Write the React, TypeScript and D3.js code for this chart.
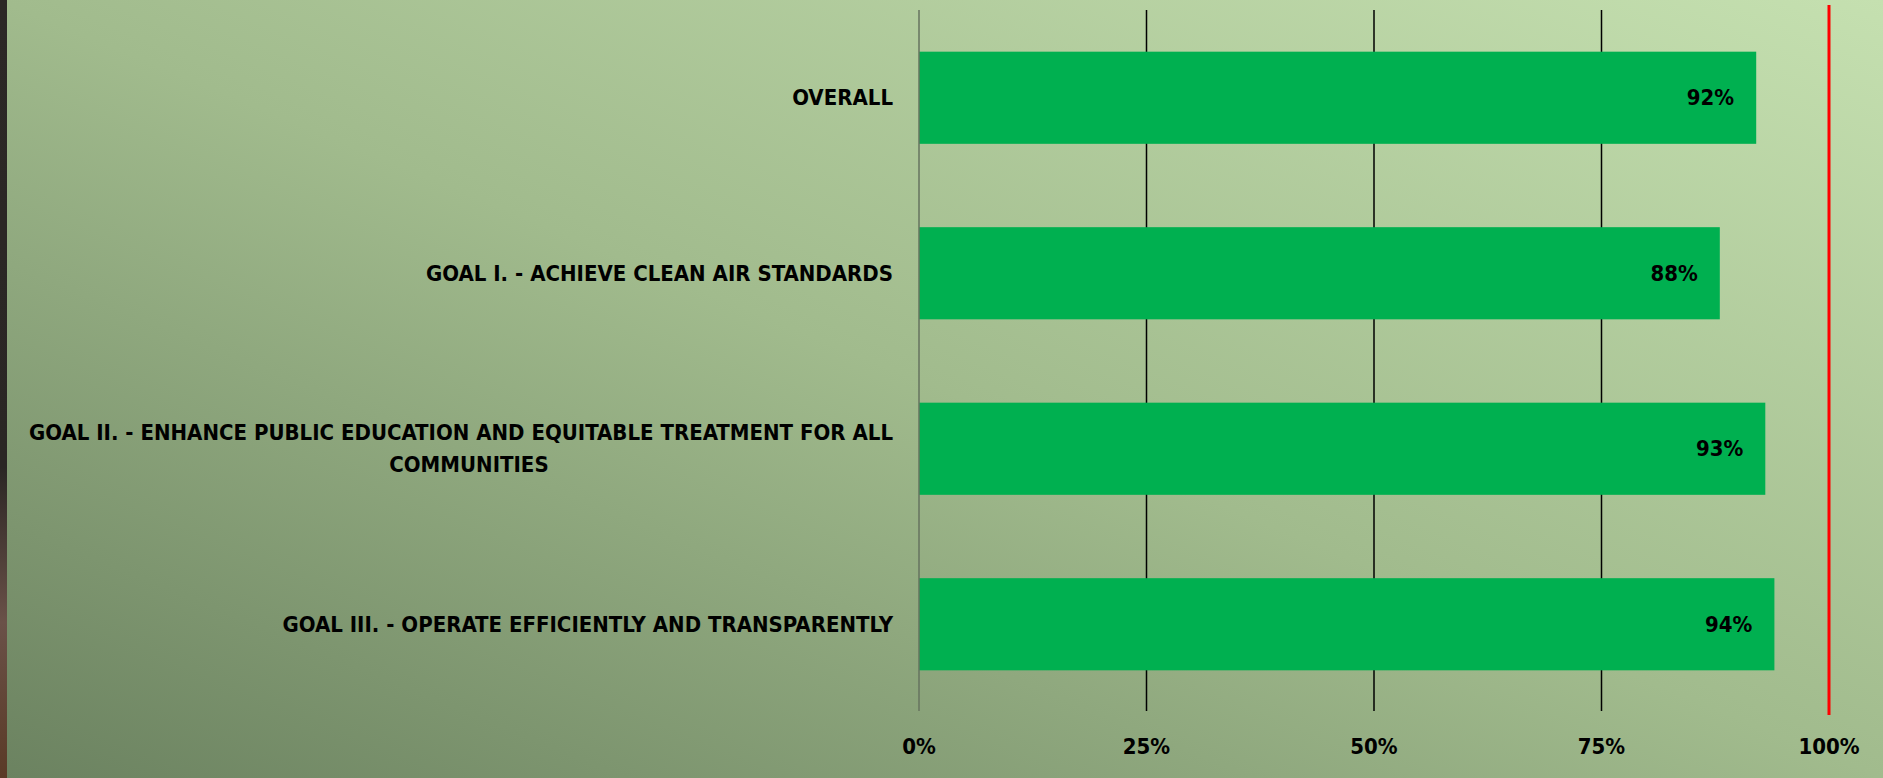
import { useEffect, useRef } from 'react';
import * as d3 from 'd3';

const categories = [
  'OVERALL',
  'GOAL I. - ACHIEVE CLEAN AIR STANDARDS',
  'GOAL II. - ENHANCE PUBLIC EDUCATION AND EQUITABLE TREATMENT FOR ALL|COMMUNITIES',
  'GOAL III. - OPERATE EFFICIENTLY AND TRANSPARENTLY',
];
const values = [0.92, 0.88, 0.93, 0.94];
const ticks = [0, 0.25, 0.5, 0.75, 1];
const target = 1;

const FONT = "'Liberation Sans Narrow', 'DejaVu Sans Condensed', 'Arial Narrow', sans-serif";

const App = () => {
  const svgRef = useRef<SVGSVGElement>(null);

  useEffect(() => {
    const width = 1883;
    const height = 778;
    const svg = d3.select(svgRef.current);
    svg.selectAll('*').remove();
    svg.attr('width', width).attr('height', height);

    const defs = svg.append('defs');
    const bg = defs.append('linearGradient')
      .attr('id', 'bg').attr('x1', 0).attr('y1', 1).attr('x2', 1).attr('y2', 0);
    bg.append('stop').attr('offset', 0).attr('stop-color', '#6b8260');
    bg.append('stop').attr('offset', 0.5).attr('stop-color', '#a1bb8d');
    bg.append('stop').attr('offset', 1).attr('stop-color', '#c5e0b0');

    const strip = defs.append('linearGradient')
      .attr('id', 'strip').attr('x1', 0).attr('y1', 0).attr('x2', 0).attr('y2', 1);
    strip.append('stop').attr('offset', 0).attr('stop-color', '#2c2826');
    strip.append('stop').attr('offset', 0.6).attr('stop-color', '#2a2624');
    strip.append('stop').attr('offset', 0.8).attr('stop-color', '#6a5148');
    strip.append('stop').attr('offset', 1).attr('stop-color', '#5a3a26');

    svg.append('rect').attr('width', width).attr('height', height).attr('fill', 'url(#bg)');
    svg.append('rect').attr('width', 7).attr('height', height).attr('fill', 'url(#strip)');

    const x = d3.scaleLinear().domain([0, 1]).range([919, 1829]);
    const y = d3.scaleBand<string>()
      .domain(categories)
      .range([10, 712])
      .paddingInner(0.475)
      .paddingOuter(0.2375);

    // gridlines
    svg.append('g')
      .selectAll('line')
      .data(ticks.filter(t => t > 0 && t < 1))
      .join('line')
      .attr('x1', d => x(d)).attr('x2', d => x(d))
      .attr('y1', 10).attr('y2', 711)
      .attr('stroke', '#000').attr('stroke-width', 1.5);

    // bars
    svg.append('g')
      .selectAll('rect')
      .data(categories)
      .join('rect')
      .attr('x', x(0))
      .attr('y', d => y(d)!)
      .attr('width', (d, i) => x(values[i]) - x(0))
      .attr('height', y.bandwidth())
      .attr('fill', '#00b050');

    // zero axis
    svg.append('line')
      .attr('x1', x(0)).attr('x2', x(0))
      .attr('y1', 10).attr('y2', 711)
      .attr('stroke', '#66735f').attr('stroke-width', 1.5);

    // target line
    svg.append('line')
      .attr('x1', x(target)).attr('x2', x(target))
      .attr('y1', 5).attr('y2', 715)
      .attr('stroke', '#ff0000').attr('stroke-width', 3);

    // value labels
    svg.append('g')
      .selectAll('text')
      .data(categories)
      .join('text')
      .attr('x', (d, i) => x(values[i]) - 22)
      .attr('y', d => y(d)! + y.bandwidth() / 2)
      .attr('dy', '0.35em')
      .attr('text-anchor', 'end')
      .style('font', `bold 22px ${FONT}`)
      .attr('fill', '#000')
      .text((d, i) => d3.format('.0%')(values[i]));

    // category labels
    const labels = svg.append('g')
      .selectAll('text')
      .data(categories)
      .join('text')
      .style('font', `bold 22px ${FONT}`)
      .attr('fill', '#000');

    labels.each(function (d) {
      const lines = d.split('|');
      const cy = y(d)! + y.bandwidth() / 2;
      const t = d3.select(this);
      if (lines.length === 1) {
        t.append('tspan')
          .attr('x', 893).attr('y', cy).attr('dy', '0.35em')
          .attr('text-anchor', 'end')
          .text(lines[0]);
      } else {
        const first = t.append('tspan')
          .attr('x', 893).attr('y', cy - 16).attr('dy', '0.35em')
          .attr('text-anchor', 'end')
          .text(lines[0]);
        const w = (first.node() as SVGTSpanElement).getComputedTextLength();
        t.append('tspan')
          .attr('x', 893 - w / 2 + 8).attr('y', cy + 16).attr('dy', '0.35em')
          .attr('text-anchor', 'middle')
          .text(lines[1]);
      }
    });

    // tick labels
    svg.append('g')
      .selectAll('text')
      .data(ticks)
      .join('text')
      .attr('x', d => x(d))
      .attr('y', 746)
      .attr('dy', '0.35em')
      .attr('text-anchor', 'middle')
      .style('font', `bold 22px ${FONT}`)
      .attr('fill', '#000')
      .text(d => d3.format('.0%')(d));
  }, []);

  return (
    <div style={{ position: 'absolute', left: 0, top: 0, width: 1883, height: 778, overflow: 'hidden' }}>
      <svg ref={svgRef} style={{ display: 'block' }}></svg>
    </div>
  );
};

export default App;
